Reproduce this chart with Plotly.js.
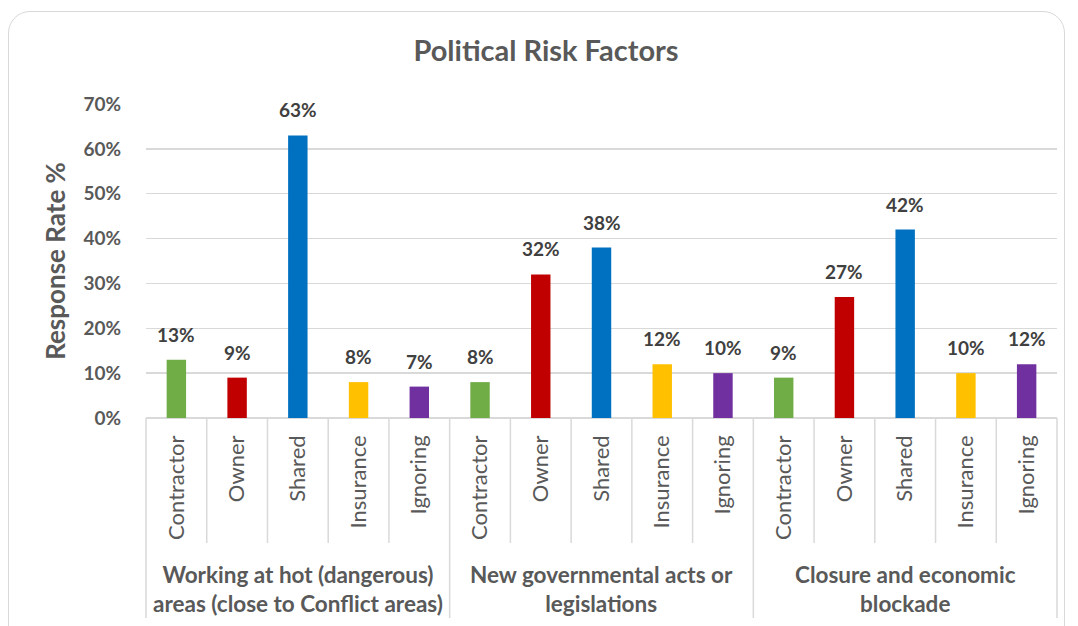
<!DOCTYPE html>
<html>
<head>
<meta charset="utf-8">
<script src="https://cdn.plot.ly/plotly-3.0.1.min.js"></script>
<style>
  html, body { margin: 0; padding: 0; background: #ffffff; }
  #wrap { position: relative; width: 1078px; height: 626px; overflow: hidden; }
  #chart { position: absolute; left: 0; top: 0; width: 1078px; height: 626px; }
  #frame { position: absolute; left: 8px; top: 11px; width: 1057px; height: 640px;
           border: 1.5px solid #d9d9d9; border-radius: 22px; pointer-events: none; box-sizing: border-box; }
</style>
</head>
<body>
<div id="wrap">
  <div id="chart"></div>
  <div id="frame"></div>
</div>
<script>
// ---- data ----
const groups = [
  "Working at hot (dangerous)<br>areas (close to Conflict areas)",
  "New governmental acts or<br>legislations",
  "Closure and economic<br>blockade"
];
const roles = ["Contractor", "Owner", "Shared", "Insurance", "Ignoring"];
const contractor = [13, 8, 9];
const owner      = [9, 32, 27];
const shared     = [63, 38, 42];
const insurance  = [8, 12, 10];
const ignoring   = [7, 10, 12];
const roleColors = ["#70ad47", "#c00000", "#0070c0", "#ffc000", "#7030a0"];

// ---- build ----
const series = [contractor, owner, shared, insurance, ignoring];
const nR = roles.length, nG = groups.length, nC = nR * nG;
const FONT = "Lato, 'Open Sans', sans-serif";
const GRAY = "#595959";

const traces = roles.map((r, ri) => {
  const xs = [], ys = [];
  for (let g = 0; g < nG; g++) { xs.push(g * nR + ri); ys.push(series[ri][g] / 100); }
  return {
    type: "bar", name: r, x: xs, y: ys, width: 0.32,
    marker: { color: roleColors[ri] }, hoverinfo: "y"
  };
});

const tickvals = [], ticktext = [];
for (let g = 0; g < nG; g++) for (let ri = 0; ri < nR; ri++) { tickvals.push(g * nR + ri); ticktext.push(roles[ri]); }

const annotations = [];
for (let ri = 0; ri < nR; ri++) for (let g = 0; g < nG; g++) {
  annotations.push({
    x: g * nR + ri, y: series[ri][g] / 100, xref: "x", yref: "y",
    text: series[ri][g] + "%", showarrow: false, yanchor: "bottom", yshift: 12,
    font: { family: FONT, size: 19, color: "#404040", weight: "bold" }
  });
}
groups.forEach((gname, g) => {
  annotations.push({
    x: g * nR + (nR - 1) / 2, y: -0.543, xref: "x", yref: "paper", yanchor: "middle",
    text: gname, showarrow: false, align: "center",
    font: { family: FONT, size: 22.5, color: GRAY, weight: "bold" }
  });
});

const shapes = [];
const H = 314; // plot height px
for (let k = 0; k <= nC; k++) {
  const isGroup = (k % nR === 0);
  shapes.push({
    type: "line", xref: "paper", yref: "paper",
    x0: k / nC, x1: k / nC, y0: 0, y1: isGroup ? -200 / H : -125 / H,
    line: { color: "#d9d9d9", width: 1.5 }
  });
}

const layout = {
  width: 1078, height: 626,
  margin: { l: 146, r: 21, t: 104, b: 208 },
  paper_bgcolor: "rgba(0,0,0,0)", plot_bgcolor: "rgba(0,0,0,0)",
  showlegend: false,
  title: { text: "<b>Political Risk Factors</b>", x: 0.5065, xanchor: "center", y: 0.918, yanchor: "middle",
           font: { family: FONT, size: 29, color: GRAY } },
  xaxis: {
    range: [-0.5, nC - 0.5], tickmode: "array", tickvals: tickvals, ticktext: ticktext,
    tickangle: -90, ticks: "", showgrid: false, zeroline: false,
    showline: false, ticklabelstandoff: 12,
    tickfont: { family: FONT, size: 22, color: GRAY }
  },
  yaxis: {
    range: [0, 0.7], dtick: 0.1, tickformat: ".0%", showgrid: true, gridcolor: "#d9d9d9", gridwidth: 1.5,
    zeroline: true, zerolinecolor: "#d9d9d9", zerolinewidth: 1.5,
    ticks: "", ticklabelstandoff: 24,
    tickfont: { family: FONT, size: 19, color: GRAY, weight: "bold" },
    title: { text: "<b>Response Rate %</b>", standoff: 10, font: { family: FONT, size: 26, color: GRAY } }
  },
  annotations: annotations,
  shapes: shapes
};

Plotly.newPlot("chart", traces, layout, { displayModeBar: false, staticPlot: true });
</script>
</body>
</html>
